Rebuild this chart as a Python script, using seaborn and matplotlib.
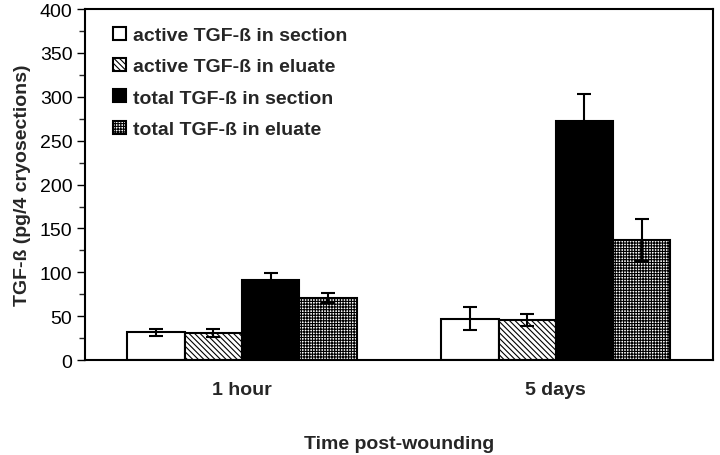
import matplotlib
matplotlib.use("Agg")
import matplotlib.pyplot as plt
from matplotlib.ticker import MultipleLocator
import seaborn as sns
import pandas as pd

# Values
times = ["1 hour", "5 days"]
series = ["active TGF-ß in section", "active TGF-ß in eluate",
          "total TGF-ß in section", "total TGF-ß in eluate"]
active_section = [32, 47]
active_eluate = [31, 46]
total_section = [91, 272]
total_eluate = [71, 137]
active_section_err = [4, 13]
active_eluate_err = [5, 7]
total_section_err = [8, 31]
total_eluate_err = [6, 24]

values = [active_section, active_eluate, total_section, total_eluate]
errors = [active_section_err, active_eluate_err, total_section_err, total_eluate_err]

rows = []
for s, vals in zip(series, values):
    for t, v in zip(times, vals):
        rows.append({"time": t, "series": s, "value": v})
df = pd.DataFrame(rows)

sns.set_theme(style="ticks")
plt.rcParams["font.family"] = ["Liberation Sans", "DejaVu Sans"]
plt.rcParams["hatch.linewidth"] = 0.8

fig = plt.figure(figsize=(7.2, 4.56), dpi=100)
ax = fig.add_axes([0.118, 0.208, 0.872, 0.770])

colors = ["white", "white", "black", "white"]
hatches = [None, "\\\\\\\\\\\\", None, "++++++"]
fs = 14

sns.barplot(data=df, x="time", y="value", hue="series", order=times,
            hue_order=series, palette=colors, width=0.73, errorbar=None,
            edgecolor="black", linewidth=1.5, ax=ax)

for cont, hatch, errs in zip(ax.containers, hatches, errors):
    xs, ys = [], []
    for bar in cont:
        if hatch:
            bar.set_hatch(hatch)
        xs.append(bar.get_x() + bar.get_width() / 2)
        ys.append(bar.get_height())
    ax.errorbar(xs, ys, yerr=errs, fmt="none", ecolor="black",
                elinewidth=1.5, capsize=5, capthick=1.5, zorder=5)

ax.set_xlim(-0.5, 1.5)
ax.set_ylim(0, 400)
ax.yaxis.set_major_locator(MultipleLocator(50))
ax.yaxis.set_minor_locator(MultipleLocator(25))
ax.tick_params(axis="y", which="major", length=6, width=1, direction="out",
               labelsize=fs, colors="black", pad=3)
ax.tick_params(axis="y", which="minor", length=4, width=1, direction="out")
ax.tick_params(axis="x", length=0, labelsize=fs, pad=15)
for lbl in ax.get_xticklabels():
    lbl.set_fontweight("bold")

for sp in ax.spines.values():
    sp.set_visible(True)
    sp.set_linewidth(1.5)
    sp.set_color("black")

ax.set_xlabel("Time post-wounding", fontsize=fs, fontweight="bold", labelpad=27)
ax.set_ylabel("TGF-ß (pg/4 cryosections)", fontsize=fs, fontweight="bold", labelpad=6)

leg = ax.legend(loc="upper left", bbox_to_anchor=(0.045, 0.95), frameon=False,
                prop={"weight": "bold", "size": fs}, handlelength=0.65,
                handleheight=0.65, handletextpad=0.35, labelspacing=0.72,
                borderaxespad=0, borderpad=0)
for h, hatch in zip(leg.legend_handles, hatches):
    h.set_edgecolor("black")
    h.set_linewidth(1.5)
    if hatch:
        h.set_hatch(hatch)

fig.savefig("out.png", dpi=100)
